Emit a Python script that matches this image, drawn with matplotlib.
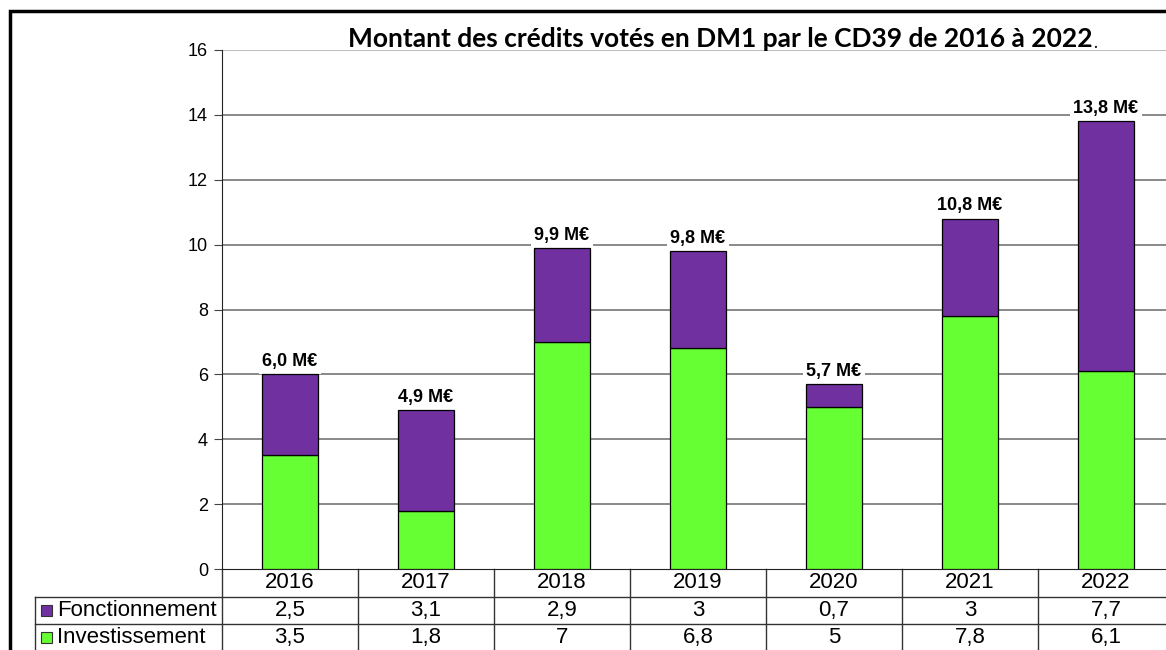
import matplotlib
matplotlib.use("Agg")
import matplotlib.pyplot as plt
from matplotlib.patches import Rectangle
from matplotlib.lines import Line2D

years = ["2016", "2017", "2018", "2019", "2020", "2021", "2022"]
fonctionnement = [2.5, 3.1, 2.9, 3.0, 0.7, 3.0, 7.7]
investissement = [3.5, 1.8, 7.0, 6.8, 5.0, 7.8, 6.1]
fonct_labels = ["2,5", "3,1", "2,9", "3", "0,7", "3", "7,7"]
invest_labels = ["3,5", "1,8", "7", "6,8", "5", "7,8", "6,1"]
total_labels = ["6,0 M€", "4,9 M€", "9,9 M€", "9,8 M€", "5,7 M€", "10,8 M€", "13,8 M€"]
series_names = ["Fonctionnement", "Investissement"]
title = "Montant des crédits votés en DM1 par le CD39 de 2016 à 2022"

c_fonct = "#7030A0"
c_invest = "#66FF33"

W, H = 1166, 650
fig = plt.figure(figsize=(W / 100, H / 100), dpi=100)

def fx(px):
    return px / W

def fy(py):
    return 1 - py / H

# outer frame (extends beyond image on right/bottom)
fig.patches.append(Rectangle((fx(10), fy(662)), fx(1200), fy(11) - fy(662),
                             transform=fig.transFigure, fill=False,
                             edgecolor="black", linewidth=2.5, clip_on=False))

ax_left, ax_top, ax_bottom = 222, 50, 569
n = len(years)
col_w = 136
ax = fig.add_axes([fx(ax_left), fy(ax_bottom), fx(col_w * n), fy(ax_top) - fy(ax_bottom)])
ax.set_xlim(-0.5, n - 0.5)
ax.set_ylim(0, 16)
yt = list(range(0, 17, 2))
ax.set_yticks(yt)
for v in yt[1:]:
    ax.axhline(v, color="#a8a8a8" if v == 16 else "#6a6a6a", linewidth=1.1, zorder=1)
ax.set_xticks([])
for s in ["top", "right"]:
    ax.spines[s].set_visible(False)
ax.spines["left"].set_color("#222222")
ax.spines["bottom"].set_color("#222222")
ax.tick_params(axis="y", direction="out", length=6, color="#444444",
               labelsize=13, pad=4)
for lab in ax.get_yticklabels():
    lab.set_fontfamily("Liberation Sans")

x = list(range(n))
bw = 0.405
ax.bar(x, investissement, width=bw, color=c_invest, edgecolor="black", linewidth=0.9, zorder=3)
ax.bar(x, fonctionnement, width=bw, bottom=investissement, color=c_fonct,
       edgecolor="black", linewidth=0.9, zorder=3)

for i in x:
    tot = investissement[i] + fonctionnement[i]
    ax.annotate(total_labels[i], (i, tot), xytext=(0, 6), textcoords="offset points",
                ha="center", va="baseline", fontsize=13, fontweight="bold",
                family="Liberation Sans", zorder=2,
                bbox=dict(boxstyle="square,pad=0.2", fc="white", ec="none"))

# title
t = fig.text(fx(348), fy(47), title, ha="left", va="baseline", fontsize=19,
             fontweight="bold", family="Lato")
ax.annotate(".", xy=(1, 0), xycoords=t, ha="left", va="bottom", fontsize=12,
            family="Lato", annotation_clip=False)

# data table below the axes
tr = ax.get_xaxis_transform()
ah = ax_bottom - ax_top
def ry(py):
    return -(py - ax_bottom) / ah

left_x = -0.5 - (ax_left - 35) / col_w
line_kw = dict(color="#333333", linewidth=1.0, transform=tr, clip_on=False)
for yb in [597, 624]:
    ax.add_line(Line2D([left_x, n - 0.5 + 0.2], [ry(yb), ry(yb)], **line_kw))
for k in range(n + 1):
    xv = -0.5 + k
    ax.add_line(Line2D([xv, xv], [ry(569), ry(660)], **line_kw))
ax.add_line(Line2D([left_x, left_x], [ry(597), ry(660)], **line_kw))

tfs = 16
for i in x:
    ax.text(i, ry(583), years[i], transform=tr, ha="center", va="center",
            fontsize=tfs, family="Liberation Sans", clip_on=False)
    ax.text(i, ry(610.5), fonct_labels[i], transform=tr, ha="center", va="center",
            fontsize=tfs, family="Liberation Sans", clip_on=False)
    ax.text(i, ry(637.5), invest_labels[i], transform=tr, ha="center", va="center",
            fontsize=tfs, family="Liberation Sans", clip_on=False)

for name, col, yc in [(series_names[0], c_fonct, 610.5), (series_names[1], c_invest, 637.5)]:
    fig.patches.append(Rectangle((fx(41), fy(yc + 5.5)), fx(11), fy(yc - 5.5) - fy(yc + 5.5),
                                 transform=fig.transFigure, facecolor=col,
                                 edgecolor="#333333", linewidth=0.8))
    fig.text(fx(57), fy(yc), name, ha="left", va="center", fontsize=tfs,
             family="Liberation Sans")

fig.savefig("out.png", dpi=100)
